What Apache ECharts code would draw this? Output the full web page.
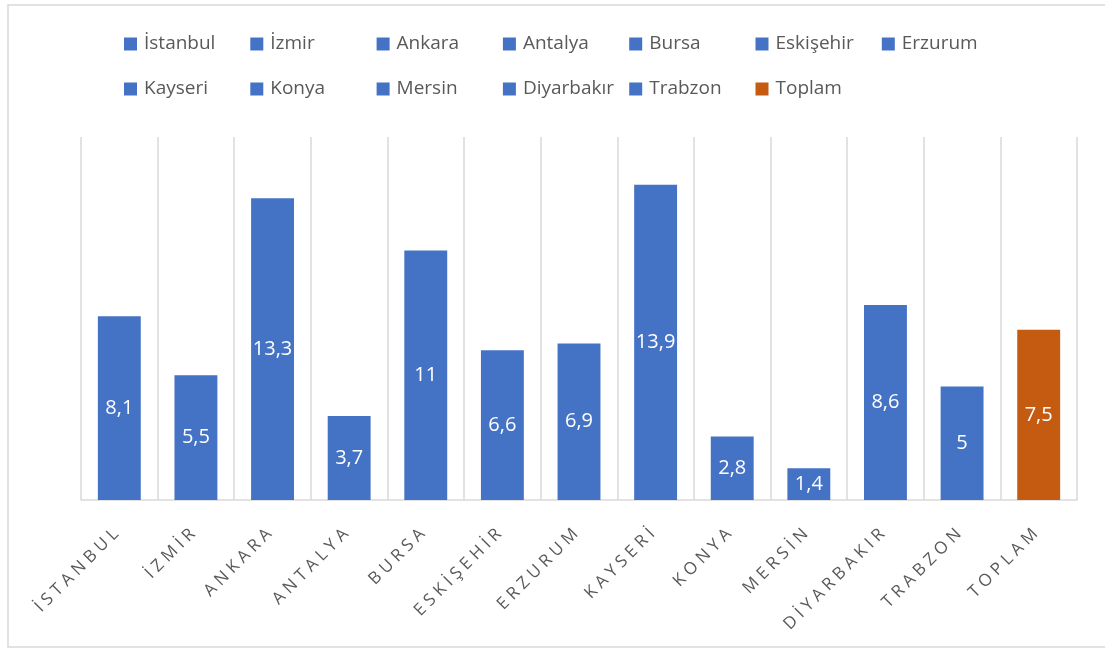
<!DOCTYPE html>
<html>
<head>
<meta charset="utf-8">
<script src="https://cdn.jsdelivr.net/npm/echarts@6/dist/echarts.min.js"></script>
<style>
  html, body { margin: 0; padding: 0; background: #ffffff; }
  #chart { width: 1105px; height: 649px; }
</style>
</head>
<body>
<div id="chart"></div>
<script>
// City names (legend) and the uppercase axis labels
const cities = ['İstanbul', 'İzmir', 'Ankara', 'Antalya', 'Bursa', 'Eskişehir', 'Erzurum',
                'Kayseri', 'Konya', 'Mersin', 'Diyarbakır', 'Trabzon', 'Toplam'];
const axisLabels = ['İSTANBUL', 'İZMİR', 'ANKARA', 'ANTALYA', 'BURSA', 'ESKİŞEHİR', 'ERZURUM',
                    'KAYSERİ', 'KONYA', 'MERSİN', 'DİYARBAKIR', 'TRABZON', 'TOPLAM'];
const values = [8.1, 5.5, 13.3, 3.7, 11, 6.6, 6.9, 13.9, 2.8, 1.4, 8.6, 5, 7.5];

const BLUE = '#4472C4';
const ORANGE = '#C55A11';
const FONT = '"Open Sans", Lato, sans-serif';

const chart = echarts.init(document.getElementById('chart'));

// One series per city, each holding its value only at its own category;
// stacked together so every bar sits centred in its slot.
const series = cities.map((name, i) => ({
  name: name,
  type: 'bar',
  stack: 'cities',
  barWidth: '56%',
  itemStyle: { color: name === 'Toplam' ? ORANGE : BLUE },
  label: {
    show: true,
    position: 'inside',
    color: '#ffffff',
    fontFamily: FONT,
    fontSize: 20,
    formatter: p => String(p.value).replace('.', ',')
  },
  data: values.map((v, j) => (j === i ? v : '-'))
}));

// Legend laid out on a fixed column grid, two rows
const legends = cities.map((name, i) => ({
  data: [name],
  left: 124 + (i % 7) * 126.3,
  top: i < 7 ? 33 : 78,
  padding: 0,
  itemWidth: 13,
  itemHeight: 13,
  itemGap: 0,
  icon: 'rect',
  selectedMode: false,
  textStyle: { color: '#595959', fontFamily: FONT, fontSize: 19, lineHeight: 22, padding: [0, 0, 0, 2] }
}));

// Letter-spaced axis labels
const spaced = s => s.split('').join(' ');

chart.setOption({
  animation: false,
  backgroundColor: '#ffffff',
  graphic: [{
    type: 'rect',
    shape: { x: 8, y: 5, width: 1120, height: 642 },
    style: { fill: 'none', stroke: '#d9d9d9', lineWidth: 1.5 },
    silent: true
  }],
  legend: legends,
  grid: { left: 81, right: 28, top: 137, bottom: 149, containLabel: false },
  xAxis: {
    type: 'category',
    data: axisLabels,
    axisTick: { show: false },
    axisLine: { lineStyle: { color: '#d9d9d9', width: 1.5 } },
    splitLine: { show: true, lineStyle: { color: '#d9d9d9', width: 1.5 } },
    axisLabel: {
      rotate: 45,
      interval: 0,
      margin: 28,
      padding: [0, 5, 0, 0],
      color: '#595959',
      fontFamily: FONT,
      fontSize: 17,
      formatter: v => spaced(v)
    }
  },
  yAxis: {
    type: 'value',
    min: 0,
    max: 16,
    show: false,
    splitLine: { show: false }
  },
  series: series
});
</script>
</body>
</html>
